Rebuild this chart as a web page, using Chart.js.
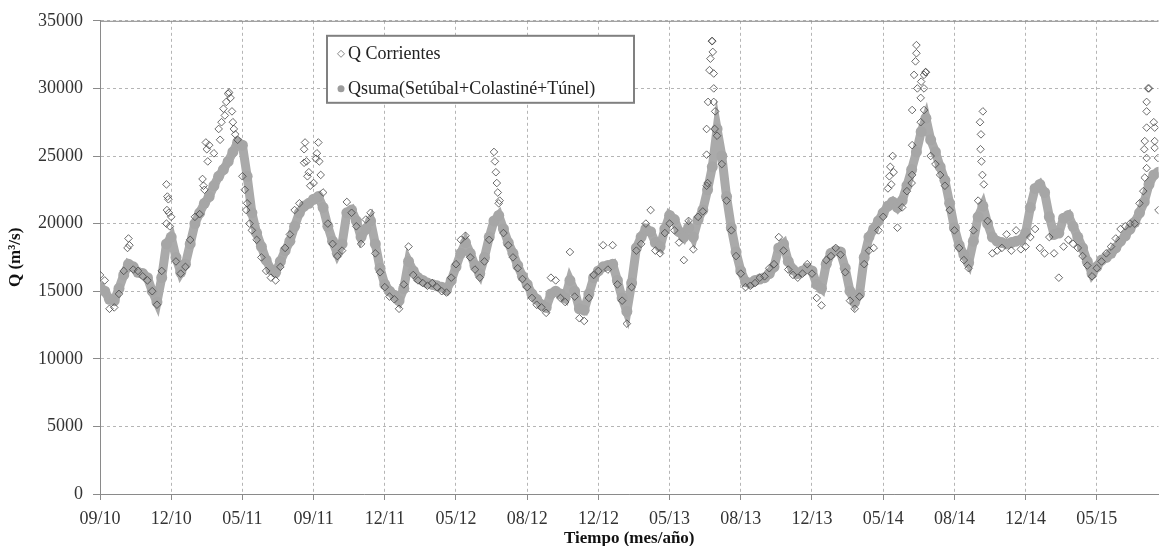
<!DOCTYPE html>
<html>
<head>
<meta charset="utf-8">
<script src="https://cdn.jsdelivr.net/npm/chart.js@4.4.1/dist/chart.umd.min.js"></script>
<style>
    html, body { margin: 0; padding: 0; background: #fff; }
    #chart-box { width: 1164px; height: 546px; }
</style>
</head>
<body>
<div id="chart-box"><canvas id="caudalChart"></canvas></div>
<script>
// x ticks, one every 15 samples
const tickLabels = ['09/10', '12/10', '05/11', '09/11', '12/11', '05/12', '08/12', '12/12',
    '05/13', '08/13', '12/13', '05/14', '08/14', '12/14', '05/15'];

const seriesNames = ['Q Corrientes', 'Qsuma(Setúbal+Colastiné+Túnel)'];

// Q Corrientes (m3/s), one value per sample
const qCorrientes = [
    16200, 15800, 13700, 13800, 14800, 16500, 18900, 16600, 16500, 16100, 15800, 15000, 14000, 16500, 22900, 20500,
    17200, 16300, 16800, 18800, 20500, 20700, 22500, 25800, 25200, 27000, 28500, 29600, 27500, 26200, 23500,
    21500, 19500, 18800, 17500, 16500, 16000, 15800, 16800, 18200, 19200, 21000, 21500, 25500, 23800, 23000,
    26000, 22300, 20000, 18500, 17600, 18000, 21600, 20800, 19800, 18500, 20300, 20800, 17800, 16400, 15300,
    14600, 14400, 13700, 15500, 18300, 16200, 15800, 15600, 15400, 15600, 15300, 15000, 14900, 16000, 17000,
    18800, 19100, 17500, 16600, 16000, 17200, 18800, 25300, 21500, 19300, 18400, 17500, 16700, 15900, 15300,
    14500, 14000, 13800, 13400, 16000, 15800, 14500, 14200, 17900, 14600, 13000, 12800, 14500, 16200, 16500,
    18400, 16600, 18400, 15500, 14300, 12600, 15300, 18000, 18500, 20000, 21000, 18000, 17800, 19300, 20000,
    19500, 18600, 17300, 20200, 18100, 20500, 20900, 23000, 33500, 26500, 24400, 21700, 19500, 17600, 16300,
    15300, 15400, 15600, 16000, 16100, 16700, 17000, 19000, 18000, 16600, 16200, 16000, 16300, 17000, 16300,
    14500, 13950, 17300, 17600, 18200, 17700, 16400, 14300, 13700, 14600, 17000, 18000, 18200, 19500, 20500,
    22600, 25000, 19700, 21200, 22400, 23000, 33200, 30500, 31200, 25000, 24400, 23600, 22800, 21000, 19500,
    18200, 17300, 16700, 19500, 21700, 28300, 20200, 17800, 18000, 18200, 19200, 18000, 19500, 18100, 18300,
    19000, 19600, 18200, 17800, 19000, 17800, 16000, 18300, 18800, 18500, 18200, 17600, 16900, 16100, 16700,
    17200, 17800, 18300, 18900, 19600, 19800, 20000, 20000, 21500, 25500, 30000, 27500, 21000
];

// extra Q Corrientes readings inside the narrow peaks (position in samples, value)
const picoPos = [
    5.8, 6.2, 14.0, 14.1, 14.2, 14.4, 14.5, 14.7,
    21.6, 21.8, 22.3, 22.5, 22.7, 25.3, 25.6, 26.3, 26.6, 27.2, 27.5, 27.8, 28.2, 28.5, 30.5, 30.8, 31.5,
    43.0, 43.2, 43.5, 43.7, 44.3, 45.5, 45.7, 46.2, 46.5,
    83.2, 83.4, 83.6, 83.8, 84.2,
    127.8, 127.8, 127.8, 128.1, 128.4, 128.6, 128.9, 129.1, 129.3, 129.3, 129.3, 129.6, 129.5,
    166.3, 166.5, 166.7, 167.2,
    171.1, 171.1, 171.1, 171.5, 171.8, 172.0, 172.2, 172.9, 172.9, 173.6, 173.6, 173.6, 173.9,
    185.4, 185.6, 185.5, 185.7, 185.9, 186.2,
    219.8, 220.1, 220.1, 220.5, 220.5, 220.5, 220.5, 220.5, 220.8, 222.2, 222.2, 222.2, 222.9
];
const picoQ = [
    18200, 18400, 20000, 21000, 22000, 21800, 20800, 19800,
    23300, 22800, 26000, 25500, 24600, 26200, 27500, 28000, 29000, 29700, 29300, 28300, 27000, 26600, 22500, 21000, 20000,
    24500, 26000, 24600, 23500, 22800, 24800, 25200, 24600, 23600,
    24600, 23800, 23000, 22300, 21700,
    22800, 25100, 27000, 29000, 31350, 32200, 33500, 32700, 31100, 30000, 29000, 28300, 27000,
    23500, 24200, 22900, 23800,
    23600, 25800, 28400, 31000, 32000, 32600, 30000, 29300, 27500, 31000, 30000, 28400, 31200,
    27500, 26600, 25500, 24600, 23600, 22900,
    22400, 23400, 26100, 24100, 24850, 27100, 28300, 29000, 30000, 27100, 26100, 25600, 24850
];

// Qsuma (m3/s)
const qSuma = [
    15300, 15000, 14400, 14300, 15200, 16200, 17000, 16800, 16400, 16300, 16000, 15000, 14200, 16000, 18500, 19000,
    17500, 16400, 17000, 18500, 20000, 20800, 21500, 22000, 22800, 23500, 24000, 24600, 25300, 26000, 25800,
    23500, 20800, 19300, 18300, 17300, 16600, 16400, 17200, 18000, 18700, 19800, 20800, 21300, 21500, 21800,
    22000, 21200, 19800, 18700, 17800, 18500, 20800, 21000, 20200, 19000, 19600, 20200, 18500, 16700, 15500,
    15000, 14700, 14300, 15200, 17200, 16500, 16000, 15800, 15600, 15500, 15400, 15300, 15100, 15800, 16800,
    17800, 18600, 17800, 16900, 16300, 17500, 19000, 20200, 20600, 19600, 18600, 17800, 16900, 16100, 15500,
    14800, 14400, 14000, 13800, 14800, 15000, 14800, 14500, 15800, 15000, 13700, 13600, 14800, 16000, 16500,
    16800, 16900, 17000, 15800, 14500, 13500, 15600, 18200, 19000, 19600, 19400, 18600, 18300, 19600, 20600,
    20300, 19400, 19000, 19700, 19000, 20300, 21000, 22500, 24200, 27000, 25000, 22000, 19700, 17900, 16500,
    15700, 15600, 15800, 15900, 16000, 16300, 16800, 18200, 18500, 17200, 16600, 16300, 16500, 16700, 16500,
    15500, 15200, 17000, 17800, 18000, 17900, 16700, 15000, 14200, 14800, 17500, 19000, 19600, 20200, 20800,
    21300, 21600, 21200, 21700, 22800, 24000, 25300, 26800, 27800, 26200, 25300, 24200, 23200, 21500, 19700,
    18400, 17700, 17100, 18700, 20500, 21300, 20000, 19000, 18700, 18600, 18500, 18600, 18700, 18800, 19300,
    21200, 22600, 22900, 22300, 20500, 19200, 19300, 20400, 20600, 19800, 19000, 18200, 17200, 16300, 16800,
    17300, 17500, 17800, 18200, 18700, 19100, 19600, 20100, 20800, 21600, 22900, 23600, 23800
];

const serif = 'Liberation Serif, Times New Roman, serif';

// legend box inside the plot + solid top frame line
const legendBox = {
    id: 'legendBox',
    afterDatasetsDraw(chart) {
        const c = chart.ctx;
        const area = chart.chartArea;
        c.save();
        c.strokeStyle = '#8a8a8a';
        c.lineWidth = 1;
        c.beginPath();
        c.moveTo(area.left, area.top + 0.5);
        c.lineTo(area.right, area.top + 0.5);
        c.stroke();

        const bx = area.left + 227, by = area.top + 15, bw = 307, bh = 67;
        c.fillStyle = '#fff';
        c.fillRect(bx, by, bw, bh);
        c.strokeStyle = '#808080';
        c.lineWidth = 2;
        c.strokeRect(bx, by, bw, bh);

        // diamond marker
        const mx = bx + 14;
        const my = by + 18;
        c.lineWidth = 1;
        c.strokeStyle = '#8a8a8a';
        c.beginPath();
        c.moveTo(mx, my - 3.5); c.lineTo(mx + 3.5, my); c.lineTo(mx, my + 3.5); c.lineTo(mx - 3.5, my);
        c.closePath();
        c.stroke();
        // circle marker
        const my2 = by + 53;
        c.fillStyle = '#9c9c9c';
        c.beginPath();
        c.arc(mx, my2, 3.5, 0, Math.PI * 2);
        c.fill();

        c.fillStyle = '#222';
        c.font = '18px ' + serif;
        c.textBaseline = 'middle';
        c.fillText(seriesNames[0], bx + 21, my);
        c.fillText(seriesNames[1], bx + 21, my2);
        c.restore();
    }
};

const corrPoints = qCorrientes.map((v, i) => ({ x: i, y: v }))
    .concat(picoPos.map((p, k) => ({ x: p, y: picoQ[k] })));

const ctx = document.getElementById('caudalChart').getContext('2d');
const caudalChart = new Chart(ctx, {
    type: 'scatter',
    data: {
        datasets: [{
            label: seriesNames[0],
            data: corrPoints,
            pointStyle: 'rectRot',
            pointRadius: 3.8,
            pointBorderWidth: 1,
            pointBorderColor: 'rgba(70, 70, 70, 0.8)',
            pointBackgroundColor: 'rgba(255, 255, 255, 0)',
            showLine: false
        }, {
            label: seriesNames[1],
            data: qSuma.map((v, i) => ({ x: i, y: v })),
            pointStyle: 'circle',
            pointRadius: 5.5,
            pointBorderWidth: 0,
            pointBackgroundColor: '#a6a6a6',
            showLine: true,
            borderColor: '#aaaaaa',
            borderWidth: 9
        }]
    },
    options: {
        responsive: true,
        maintainAspectRatio: false,
        animation: false,
        devicePixelRatio: 1,
        layout: { padding: { top: 20, right: 2, left: 0, bottom: 0 } },
        plugins: {
            legend: { display: false },
            tooltip: { enabled: false }
        },
        scales: {
            x: {
                type: 'linear',
                min: 0,
                max: qSuma.length - 1,
                afterBuildTicks: function (scale) {
                    scale.ticks = tickLabels.map((l, i) => ({ value: i * 15 }));
                },
                afterFit: function (scale) { scale.height = 52; },
                ticks: {
                    autoSkip: false,
                    maxRotation: 0,
                    padding: 8,
                    color: '#333',
                    font: { family: serif, size: 18 },
                    callback: function (v) { return tickLabels[Math.round(v / 15)]; }
                },
                grid: { color: '#b5b5b5', tickLength: 6, tickColor: '#8a8a8a' },
                border: { display: true, color: '#8a8a8a', width: 1, dash: [3, 3] },
                title: {
                    display: true,
                    text: 'Tiempo (mes/año)',
                    color: '#111',
                    font: { family: serif, size: 17, weight: 'bold', lineHeight: 0.9 },
                    padding: { top: 0, bottom: 0 }
                }
            },
            y: {
                min: 0,
                max: 35000,
                afterFit: function (scale) { scale.width = 100; },
                ticks: {
                    stepSize: 5000,
                    padding: 10,
                    color: '#333',
                    font: { family: serif, size: 18 },
                    callback: function (v) { return v; }
                },
                grid: { color: '#b5b5b5', tickLength: 7, tickColor: '#8a8a8a' },
                border: { display: true, color: '#8a8a8a', width: 1, dash: [3, 3] },
                title: {
                    display: true,
                    text: 'Q (m³/s)',
                    color: '#111',
                    font: { family: serif, size: 17, weight: 'bold' },
                    padding: { top: 5, bottom: 0 }
                }
            }
        }
    },
    plugins: [legendBox]
});
</script>
</body>
</html>
